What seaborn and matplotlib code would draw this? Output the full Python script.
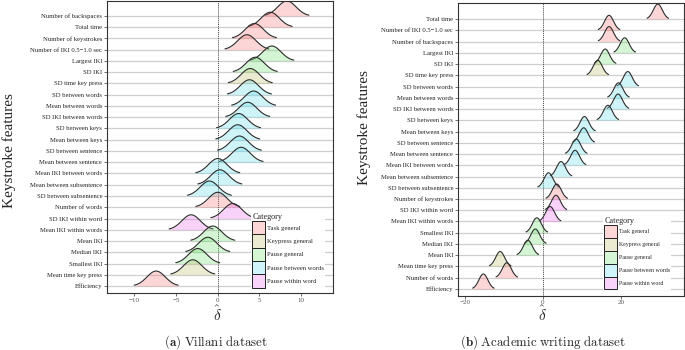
import numpy as np
import pandas as pd
import matplotlib
matplotlib.use("Agg")
import matplotlib.pyplot as plt
from matplotlib.patches import Patch
import seaborn as sns

# category colours (drawn with alpha over white)
categories = ["Task general", "Keypress general", "Pause general",
              "Pause between words", "Pause within word"]
cat_colors = ["#F87A7A", "#BDBD6A", "#6FE06F", "#5FDCEB", "#EB6BEB"]

# Villani dataset, top row first
villani_features = [
    "Number of backspaces", "Total time", "Number of keystrokes",
    "Number of IKI 0.5\u22121.0 sec", "Largest IKI", "SD IKI",
    "SD time key press", "SD between words", "Mean between words",
    "SD IKI between words", "SD between keys", "Mean between keys",
    "SD between sentence", "Mean between sentence", "Mean IKI between words",
    "Mean between subsentence", "SD between subsentence", "Number of words",
    "SD IKI within word", "Mean IKI within words", "Mean IKI", "Median IKI",
    "Smallest IKI", "Mean time key press", "Efficiency"]
villani_cat = [0, 0, 0, 0, 2, 2, 1, 3, 3, 3, 3, 3, 3, 3, 3, 3, 3, 0,
               4, 4, 2, 2, 2, 1, 0]
villani_mean = [8.3, 6.3, 4.4, 3.5, 6.5, 4.5, 3.9, 3.8, 4.3, 3.6, 2.5, 2.4,
                2.6, 2.8, 0.0, 0.25, -1.0, 0.0, 1.8, -3.2, -0.6, -1.2,
                -2.4, -3.0, -7.4]
villani_sd = 1.1

# Academic writing dataset, top row first
academic_features = [
    "Total time", "Number of IKI 0.5\u22121.0 sec", "Number of backspaces",
    "Largest IKI", "SD IKI", "SD time key press", "SD between words",
    "Mean between words", "SD IKI between words", "SD between keys",
    "Mean between keys", "SD between sentence", "Mean between sentence",
    "Mean IKI between words", "Mean between subsentence",
    "SD between subsentence", "Number of keystrokes", "SD IKI within word",
    "Mean IKI within words", "Smallest IKI", "Median IKI", "Mean IKI",
    "Mean time key press", "Number of words", "Efficiency"]
academic_cat = [0, 0, 0, 2, 2, 1, 3, 3, 3, 3, 3, 3, 3, 3, 3, 3, 0,
                4, 4, 2, 2, 2, 1, 0, 0]
academic_mean = [29.5, 17.0, 17.0, 21.0, 16.0, 14.1, 21.8, 19.4, 19.3, 16.7,
                 10.7, 10.5, 8.6, 8.3, 4.7, 1.5, 3.6, 3.4, 1.9, -1.5, -1.9,
                 -3.8, -10.9, -9.2, -15.2]
academic_sd = 1.15

ridge_height = 1.33
serif = ["Liberation Serif", "DejaVu Serif"]

sns.set_theme(style="white")
plt.rcParams["font.family"] = serif
plt.rcParams["mathtext.fontset"] = "cm"


def add_legend(ax, anchor, fs, key_w, key_h):
    # key sizes in pixels -> legend units of the label font size
    fs_px = fs * 100 / 72
    hh = (key_h / fs_px - 0.245) / 0.65
    handles = [Patch(facecolor=0.3 * np.array(matplotlib.colors.to_rgb(c)) + 0.7,
                     edgecolor="#222222", lw=0.7) for c in cat_colors]
    leg = ax.legend(handles, categories, title="Category", loc="lower left",
                    bbox_to_anchor=anchor, fontsize=fs, title_fontsize=5.9,
                    handlelength=key_w / fs_px, handleheight=hh,
                    labelspacing=0, handletextpad=0.3, borderpad=0.15,
                    borderaxespad=0, frameon=True, fancybox=False,
                    framealpha=1)
    leg.get_frame().set_edgecolor("none")
    leg._legend_box.align = "left"
    leg.set_zorder(100)


def ridge_panel(ax, features, cats, means, sd, xlim, ylim, xticks):
    n = len(features)
    rows = np.arange(n)[::-1]
    ax.axvline(0, color="#444444", ls=(0, (1, 1)), lw=0.7, zorder=1)
    for i in range(n):
        ax.axhline(rows[i], color="#CFCFCF", lw=0.9, zorder=0.5)
    for i in range(n):
        x = np.linspace(means[i] - 2.4 * sd, means[i] + 2.4 * sd, 120)
        y = rows[i] + ridge_height * np.exp(-0.5 * ((x - means[i]) / sd) ** 2)
        z = 2 + i
        ax.fill_between(x, rows[i], y, color=cat_colors[cats[i]], alpha=0.3,
                        lw=0, zorder=z)
        df = pd.DataFrame({"x": x, "y": y})
        sns.lineplot(data=df, x="x", y="y", color="#2B2B2B", lw=0.8,
                     ax=ax, zorder=z, sort=False)
    ax.set_xlim(*xlim)
    ax.set_ylim(*ylim)
    ax.set_yticks(rows)
    ax.set_yticklabels(features, fontsize=4.8, color="#222222")
    ax.set_xticks(xticks)
    ax.set_xticklabels([f"{t}".replace("-", "\u2212") for t in xticks],
                       fontsize=5, color="#555555")
    ax.set_xlabel("")
    ax.set_ylabel("")
    ax.tick_params(axis="both", length=2, width=0.5, color="#333333", pad=1.5,
                   left=True, bottom=True)
    for s in ax.spines.values():
        s.set_color("#333333")
        s.set_linewidth(0.8)


fig = plt.figure(figsize=(6.85, 3.5), dpi=100)
ax1 = fig.add_axes([107 / 685, 1 - 293 / 350, 225.7 / 685, 292 / 350])
ax2 = fig.add_axes([458 / 685, 1 - 295.5 / 350, 226 / 685, 292.2 / 350])

ridge_panel(ax1, villani_features, villani_cat, villani_mean, villani_sd,
            (-13.3, 13.8), (-0.62, 25.33), [-10, -5, 0, 5, 10])
ridge_panel(ax2, academic_features, academic_cat, academic_mean, academic_sd,
            (-21.7, 36.2), (-0.58, 25.4), [-20, 0, 20])

add_legend(ax1, (0.64, 0.015), 4.8, 12.7, 13.3)
add_legend(ax2, (0.643, 0.018), 4.2, 13.3, 12.8)

fig.text(9 / 685, 1 - 151 / 350, "Keystroke features", rotation=90,
         ha="center", va="center", fontsize=11)
fig.text(364 / 685, 1 - 128 / 350, "Keystroke features", rotation=90,
         ha="center", va="center", fontsize=11)
fig.text(217 / 685, 1 - 314 / 350, r"$\hat{\delta}$", ha="center",
         va="center", fontsize=11)
fig.text(542.5 / 685, 1 - 314 / 350, r"$\hat{\delta}$", ha="center",
         va="center", fontsize=11)
fig.text(216 / 685, 1 - 342.5 / 350,
         r"$\mathbf{(a)}\ \mathrm{Villani\ dataset}$", ha="center",
         va="center", fontsize=9.3)
fig.text(543 / 685, 1 - 342.5 / 350,
         r"$\mathbf{(b)}\ \mathrm{Academic\ writing\ dataset}$", ha="center",
         va="center", fontsize=9.3)

fig.savefig("out.png", dpi=100)
